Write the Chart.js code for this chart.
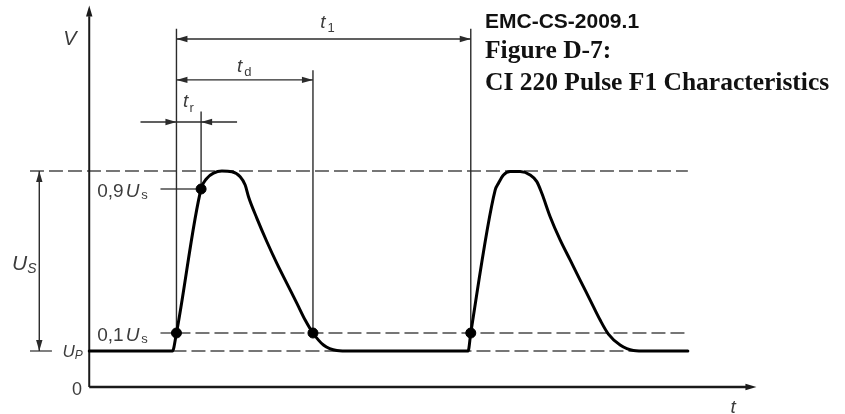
<!DOCTYPE html>
<html>
<head>
<meta charset="utf-8">
<script src="https://cdn.jsdelivr.net/npm/chart.js@4"></script>
<style>
  html, body { margin: 0; padding: 0; background: #fff; }
  #wrap { width: 845px; height: 414px; }
</style>
</head>
<body>
<div id="wrap"><canvas id="pulseChart"></canvas></div>
<script>
// pulse waveform, time in arbitrary units, voltage in arbitrary units
var pulseTime = [0, 12.5, 13.1, 16.8, 17.67, 18.66, 19.92, 21.43, 22.67, 23.42, 23.92, 25.18, 26.68, 28.18, 29.68, 31.19, 32.43, 33.6, 35.18, 37.19, 39.2,
                 56.9, 57.3, 60.96, 61.46, 62.21, 63.21, 64.71, 66.22, 67.22, 67.97, 69.22, 70.72, 72.22, 73.72, 75.23, 76.73, 77.97, 79.73, 81.73, 83.74, 89.9];
var pulseVolt = [2, 2, 3, 11, 11.59, 11.88, 12, 11.96, 11.68, 11.22, 10.57, 9.37, 8.07, 6.87, 5.76, 4.65, 3.72, 3, 2.33, 2.03, 2,
                 2, 3, 10.94, 11.32, 11.78, 11.97, 11.97, 11.78, 11.41, 10.76, 9.46, 8.17, 7.06, 5.94, 4.83, 3.72, 2.94, 2.33, 2.03, 2, 2];

// marked points (10 % / 90 % crossings)
var markTime = [13.1, 16.8, 33.6, 57.3];
var markVolt = [3, 11, 3, 3];

// levels
var upLevel = 2;      // U_P
var usSwing = 10;     // U_S
var topLevel = upLevel + usSwing;
var lvl10 = upLevel + 0.1 * usSwing;
var lvl90 = upLevel + 0.9 * usSwing;

// characteristic times
var tStart = 13.1, t90 = 16.8, tEnd = 33.6, tNext = 57.3;

var titleLines = ["EMC-CS-2009.1", "Figure D-7:", "CI 220 Pulse F1 Characteristics"];

var ink = "#2b2b2b";
var labelInk = "#3c3c3c";

function arrowHead(ctx, x, y, dir) {
  // dir: 'l','r','u','d' -> where the tip points
  var L = 11, W = 3.2;
  ctx.beginPath();
  ctx.moveTo(x, y);
  if (dir == 'r') { ctx.lineTo(x - L, y - W); ctx.lineTo(x - L, y + W); }
  if (dir == 'l') { ctx.lineTo(x + L, y - W); ctx.lineTo(x + L, y + W); }
  if (dir == 'u') { ctx.lineTo(x - W, y + L); ctx.lineTo(x + W, y + L); }
  if (dir == 'd') { ctx.lineTo(x - W, y - L); ctx.lineTo(x + W, y - L); }
  ctx.closePath();
  ctx.fill();
}

function seg(ctx, x1, y1, x2, y2) {
  ctx.beginPath();
  ctx.moveTo(x1, y1);
  ctx.lineTo(x2, y2);
  ctx.stroke();
}

// draws a label made of pieces: [text, italic, size, dy, gap]
function label(ctx, x, y, parts) {
  var cx = x;
  for (var i = 0; i < parts.length; i++) {
    var p = parts[i];
    ctx.font = (p[1] ? "italic " : "") + p[2] + 'px "Liberation Sans", Arial, sans-serif';
    ctx.fillText(p[0], cx, y + (p[3] || 0));
    cx += ctx.measureText(p[0]).width + (p[4] || 0);
  }
}

var diagramPlugin = {
  id: 'diagram',
  beforeDatasetsDraw: function(chart) {
    var ctx = chart.ctx;
    var xs = chart.scales.x, ys = chart.scales.y;
    var X = function(v) { return xs.getPixelForValue(v); };
    var Y = function(v) { return ys.getPixelForValue(v); };
    ctx.save();

    // dashed reference levels
    ctx.strokeStyle = "#4a4a4a";
    ctx.lineWidth = 1.4;
    ctx.setLineDash([14, 5]);
    seg(ctx, X(-8.9), Y(topLevel), X(89.9), Y(topLevel));
    seg(ctx, X(tStart), Y(lvl10), X(89.9), Y(lvl10));
    seg(ctx, X(12.5), Y(upLevel), X(89.9), Y(upLevel));
    ctx.setLineDash([]);

    // short stub left of U_P and leaders to the marked points
    seg(ctx, X(-8.9), Y(upLevel), X(-5.6), Y(upLevel));
    seg(ctx, X(10.7), Y(lvl90), X(t90), Y(lvl90));
    seg(ctx, X(10.7), Y(lvl10), X(tStart), Y(lvl10));

    // extension lines
    ctx.strokeStyle = ink;
    seg(ctx, X(tStart), Y(lvl10), X(tStart), Y(19.9));
    seg(ctx, X(t90), Y(lvl90), X(t90), Y(15.3));
    seg(ctx, X(tEnd), Y(lvl10), X(tEnd), Y(17.6));
    seg(ctx, X(tNext), Y(lvl10), X(tNext), Y(19.9));

    // dimension lines
    ctx.fillStyle = ink;
    seg(ctx, X(tStart), Y(19.33), X(tNext), Y(19.33));
    arrowHead(ctx, X(tStart), Y(19.33), 'l');
    arrowHead(ctx, X(tNext), Y(19.33), 'r');

    seg(ctx, X(tStart), Y(17.06), X(tEnd), Y(17.06));
    arrowHead(ctx, X(tStart), Y(17.06), 'l');
    arrowHead(ctx, X(tEnd), Y(17.06), 'r');

    seg(ctx, X(7.7), Y(14.72), X(22.2), Y(14.72));
    arrowHead(ctx, X(tStart), Y(14.72), 'r');
    arrowHead(ctx, X(t90), Y(14.72), 'l');

    seg(ctx, X(-7.5), Y(upLevel), X(-7.5), Y(topLevel));
    arrowHead(ctx, X(-7.5), Y(topLevel), 'u');
    arrowHead(ctx, X(-7.5), Y(upLevel), 'd');

    // axes
    ctx.strokeStyle = "#1a1a1a";
    ctx.fillStyle = "#1a1a1a";
    ctx.lineWidth = 2.6;
    seg(ctx, X(0), Y(0), X(99), Y(0));
    arrowHead(ctx, X(100.2), Y(0), 'r');
    ctx.lineWidth = 2;
    seg(ctx, X(0), Y(0), X(0), Y(20.6));
    arrowHead(ctx, X(0), Y(21.2), 'u');

    ctx.restore();
  },
  afterDatasetsDraw: function(chart) {
    var ctx = chart.ctx;
    var xs = chart.scales.x, ys = chart.scales.y;
    var X = function(v) { return xs.getPixelForValue(v); };
    var Y = function(v) { return ys.getPixelForValue(v); };
    ctx.save();
    ctx.fillStyle = labelInk;
    ctx.textBaseline = "alphabetic";
    ctx.textAlign = "left";

    label(ctx, X(-3.9), Y(19.0), [["V", true, 20]]);
    label(ctx, X(96.3), Y(-1.45), [["t", true, 19]]);
    label(ctx, X(-2.6), Y(-0.45), [["0", false, 18]]);
    label(ctx, X(-4.0), Y(1.67), [["U", true, 17], ["P", true, 12, 2]]);
    label(ctx, X(-11.6), Y(6.5), [["U", true, 21], ["S", true, 14, 3]]);
    label(ctx, X(1.2), Y(10.56), [["0,9", false, 19, 0, 2], ["U", true, 19, 0, 2], ["s", false, 13, 2]]);
    label(ctx, X(1.2), Y(2.56), [["0,1", false, 19, 0, 2], ["U", true, 19, 0, 2], ["s", false, 13, 2]]);
    label(ctx, X(34.7), Y(19.94), [["t", true, 19, 0, 2], ["1", false, 13, 4]]);
    label(ctx, X(22.2), Y(17.5), [["t", true, 19, 0, 2], ["d", false, 13, 4]]);
    label(ctx, X(14.1), Y(15.56), [["t", true, 19, 0, 1], ["r", false, 13, 5]]);

    // figure caption
    ctx.fillStyle = "#111";
    ctx.font = 'bold 21px "Liberation Sans", Arial, sans-serif';
    ctx.fillText(titleLines[0], 485, 28);
    ctx.font = 'bold 25.5px "Liberation Serif", "Times New Roman", serif';
    ctx.fillText(titleLines[1], 485, 58);
    ctx.fillText(titleLines[2], 485, 90);
    ctx.restore();
  }
};

var pulseData = pulseTime.map(function(t, i) { return { x: t, y: pulseVolt[i] }; });
var markData = markTime.map(function(t, i) { return { x: t, y: markVolt[i] }; });

var pulseChart = new Chart(document.getElementById('pulseChart'), {
  type: 'scatter',
  data: {
    datasets: [
      {
        label: "Pulse",
        data: pulseData,
        showLine: true,
        borderColor: "#000",
        borderWidth: 3,
        borderCapStyle: 'round',
        borderJoinStyle: 'round',
        cubicInterpolationMode: 'monotone',
        pointRadius: 0,
        fill: false,
        order: 2
      },
      {
        label: "Marks",
        data: markData,
        showLine: false,
        pointRadius: 5,
        pointBackgroundColor: "#000",
        pointBorderColor: "#000",
        order: 1
      }
    ]
  },
  options: {
    responsive: true,
    maintainAspectRatio: false,
    animation: false,
    layout: { padding: 0, autoPadding: false },
    plugins: { legend: { display: false }, tooltip: { enabled: false }, title: { display: false } },
    scales: {
      x: { type: 'linear', min: -13.4, max: 113.5, display: false },
      y: { type: 'linear', min: -1.5, max: 21.5, display: false }
    }
  },
  plugins: [diagramPlugin]
});
</script>
</body>
</html>
